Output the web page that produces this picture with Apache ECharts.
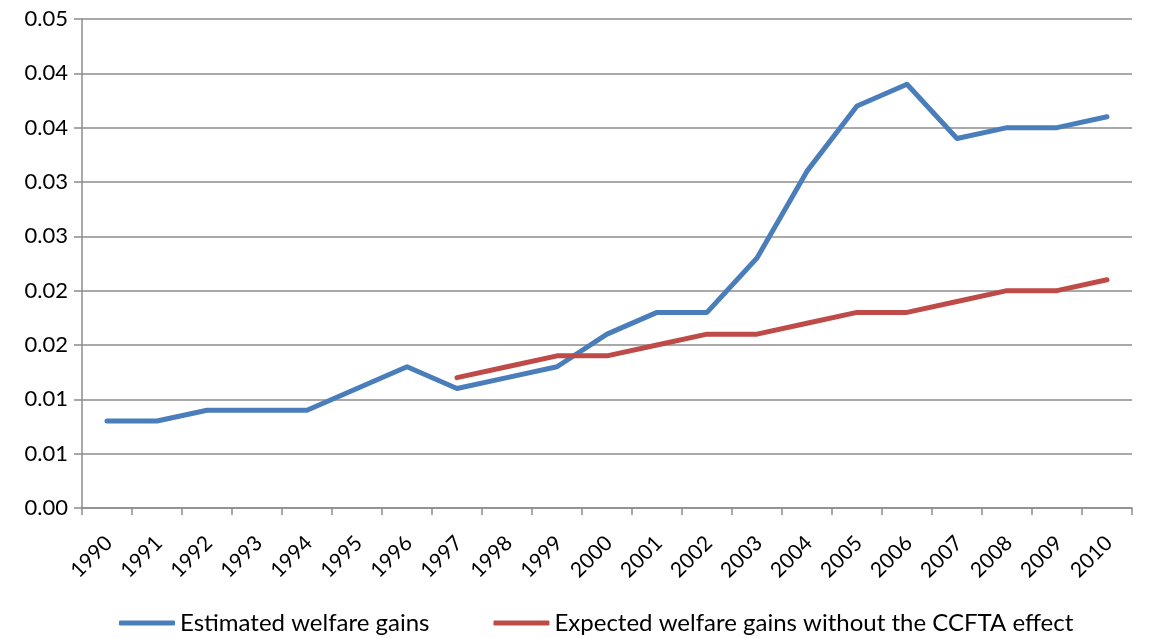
<!DOCTYPE html>
<html>
<head>
<meta charset="utf-8">
<script src="https://cdn.jsdelivr.net/npm/echarts@6/dist/echarts.min.js"></script>
<style>
  html, body { margin: 0; padding: 0; background: #fff; }
  #chart { width: 1150px; height: 638px; }
</style>
</head>
<body>
<div id="chart"></div>
<script>
// Years on the horizontal axis
const years = ['1990','1991','1992','1993','1994','1995','1996','1997','1998','1999',
               '2000','2001','2002','2003','2004','2005','2006','2007','2008','2009','2010'];

// Estimated welfare gains
const estimated = [0.008, 0.008, 0.009, 0.009, 0.009, 0.011, 0.013, 0.011, 0.012, 0.013,
                   0.016, 0.018, 0.018, 0.023, 0.031, 0.037, 0.039, 0.034, 0.035, 0.035, 0.036];

// Expected welfare gains without the CCFTA effect (series begins in 1997)
const expected = [null, null, null, null, null, null, null, 0.012, 0.013, 0.014,
                  0.014, 0.015, 0.016, 0.016, 0.017, 0.018, 0.018, 0.019, 0.020, 0.020, 0.021];

// Value-axis tick labels, two decimals (step 0.005)
const yTickLabels = ['0.00','0.01','0.01','0.02','0.02','0.03','0.03','0.04','0.04','0.05'];

const seriesNames = ['Estimated welfare gains', 'Expected welfare gains without the CCFTA effect'];

const FONT = 'Lato, "Open Sans", sans-serif';
const GRID_COLOR = '#8c8c8c';

const chart = echarts.init(document.getElementById('chart'), null, { renderer: 'canvas' });

chart.setOption({
  animation: false,
  backgroundColor: '#ffffff',
  grid: { left: 82, right: 18, top: 19, bottom: 130, containLabel: false },
  legend: {
    top: 606,
    left: 114,
    itemWidth: 56,
    itemHeight: 5,
    itemGap: 64,
    icon: 'roundRect',
    textStyle: { fontFamily: FONT, fontSize: 24, color: '#000' },
    data: seriesNames
  },
  xAxis: {
    type: 'category',
    data: years,
    boundaryGap: true,
    axisLine: { show: true, lineStyle: { color: GRID_COLOR, width: 1.5 } },
    axisTick: { show: true, alignWithLabel: false, length: 7, lineStyle: { color: GRID_COLOR, width: 1.5 } },
    axisLabel: {
      interval: 0,
      rotate: 45,
      margin: 10,
      verticalAlign: 'top',
      padding: [6, 14, 0, 0],
      fontFamily: FONT,
      fontSize: 21,
      color: '#000'
    },
    splitLine: { show: false }
  },
  yAxis: {
    type: 'value',
    min: 0,
    max: 0.045,
    interval: 0.005,
    axisLine: { show: true, lineStyle: { color: GRID_COLOR, width: 1.5 } },
    axisTick: { show: true, inside: false, length: 8, lineStyle: { color: GRID_COLOR, width: 1.5 } },
    axisLabel: {
      margin: 14,
      fontFamily: FONT,
      fontSize: 22,
      color: '#000',
      formatter: function (v) { return yTickLabels[Math.round(v / 0.005)]; }
    },
    splitLine: { show: true, lineStyle: { color: GRID_COLOR, width: 1.5 } }
  },
  series: [
    {
      name: seriesNames[0],
      type: 'line',
      data: estimated,
      symbol: 'none',
      lineStyle: { color: '#4a7ebb', width: 5, cap: 'round', join: 'round' },
      itemStyle: { color: '#4a7ebb' }
    },
    {
      name: seriesNames[1],
      type: 'line',
      data: expected,
      symbol: 'none',
      connectNulls: false,
      lineStyle: { color: '#be4b48', width: 5, cap: 'round', join: 'round' },
      itemStyle: { color: '#be4b48' }
    }
  ]
});
</script>
</body>
</html>
